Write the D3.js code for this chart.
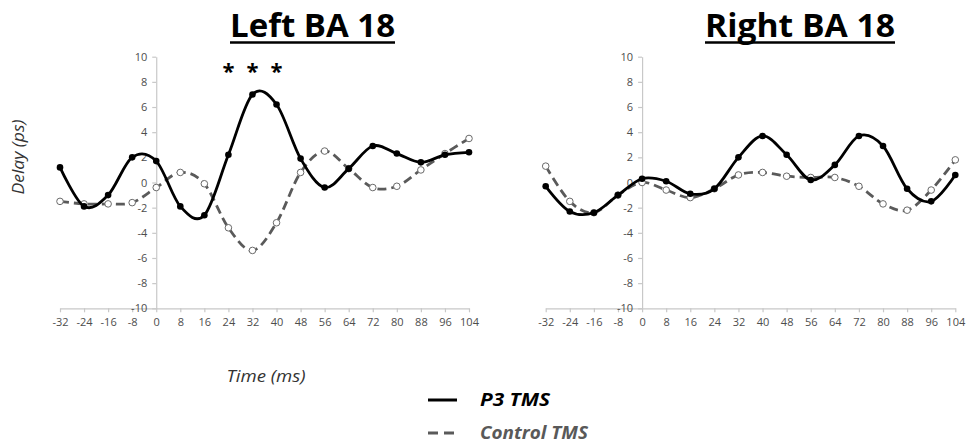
<!DOCTYPE html>
<html><head><meta charset="utf-8">
<script src="https://d3js.org/d3.v7.min.js"></script>
<style>body{margin:0;background:#fff}svg{display:block}</style>
</head><body><svg id="c" width="966" height="447"></svg>
<script>
// ---- data ----
const times = [-32,-24,-16,-8,0,8,16,24,32,40,48,56,64,72,80,88,96,104];
const xTickLabels = times;
const yTickValues = [-10,-8,-6,-4,-2,0,2,4,6,8,10];
const leftP3      = [1.2,-1.9,-1.0,2.0,1.7,-1.9,-2.6,2.2,7.0,6.2,1.9,-0.4,1.1,2.9,2.3,1.6,2.2,2.4];
const leftControl = [-1.5,-1.7,-1.7,-1.6,-0.4,0.8,-0.1,-3.6,-5.4,-3.2,0.8,2.5,1.1,-0.4,-0.3,1.0,2.3,3.5];
const rightP3     = [-0.3,-2.3,-2.4,-1.0,0.3,0.1,-0.9,-0.5,2.0,3.7,2.2,0.2,1.4,3.7,2.9,-0.5,-1.5,0.6];
const rightControl= [1.3,-1.5,-2.4,-1.0,0.0,-0.6,-1.2,-0.5,0.6,0.8,0.5,0.4,0.4,-0.3,-1.7,-2.2,-0.6,1.8];
const seriesNames = ["P3 TMS","Control TMS"];
const panelTitles = ["Left BA 18","Right BA 18"];
const sigTimes = [24,32,40];
const yLabel = "Delay (ps)";
const xLabel = "Time (ms)";

// ---- drawing ----
const svg = d3.select("#c");
svg.append("rect").attr("width",966).attr("height",447).attr("fill","#fff");

const panels = [
  {title:panelTitles[0], p3:leftP3, ctl:leftControl, x0:60, x1:469, tx:230, tw:165, sig:true},
  {title:panelTitles[1], p3:rightP3, ctl:rightControl, x0:545.7, x1:955.3, tx:705, tw:190, sig:false}
];
const yTop = 56.7, yBot = 308.3;
const grey = "#595959";

panels.forEach(p => {
  const x = d3.scaleLinear().domain([-32,104]).range([p.x0,p.x1]);
  const y = d3.scaleLinear().domain([-10,10]).range([yBot,yTop]);
  const g = svg.append("g");

  const xa = g.append("g").attr("transform",`translate(0,${y(-10)})`)
    .call(d3.axisBottom(x).tickValues(xTickLabels).tickSize(4).tickPadding(6).tickSizeOuter(0).tickFormat(d=>d));
  const ya = g.append("g").attr("transform",`translate(${x(0)},0)`)
    .call(d3.axisLeft(y).tickValues(yTickValues).tickSize(4).tickPadding(5).tickSizeOuter(0).tickFormat(d=>d));
  [xa,ya].forEach(a=>{
    a.select(".domain").attr("stroke","#c8c8c8").attr("stroke-width",1.2);
    a.selectAll(".tick line").attr("stroke","#c8c8c8").attr("stroke-width",1.2);
    a.selectAll(".tick text").attr("fill","#4d4d4d").attr("font-family","Open Sans, sans-serif").attr("font-size",11);
  });

  const line = d3.line().x((d,i)=>x(times[i])).y(d=>y(d)).curve(d3.curveCardinal.tension(0));

  g.append("path").datum(p.ctl).attr("d",line).attr("fill","none")
    .attr("stroke","#5a5a5a").attr("stroke-width",2.8).attr("stroke-dasharray","9,5");
  g.selectAll("circle.ctl").data(p.ctl).join("circle").attr("class","ctl")
    .attr("cx",(d,i)=>x(times[i])).attr("cy",d=>y(d)).attr("r",3.3)
    .attr("fill","#fff").attr("stroke","#6a6a6a").attr("stroke-width",1);

  g.append("path").datum(p.p3).attr("d",line).attr("fill","none")
    .attr("stroke","#000").attr("stroke-width",2.8);
  g.selectAll("circle.p3").data(p.p3).join("circle").attr("class","p3")
    .attr("cx",(d,i)=>x(times[i])).attr("cy",d=>y(d)).attr("r",3.3).attr("fill","#000");

  g.append("text").attr("x",p.tx).attr("y",37).text(p.title)
    .attr("font-family","Open Sans, sans-serif").attr("font-weight","bold").attr("font-size",32)
    .attr("textLength",p.tw).attr("lengthAdjust","spacingAndGlyphs").attr("fill","#000");
  g.append("line").attr("x1",p.tx).attr("x2",p.tx+p.tw).attr("y1",42.5).attr("y2",42.5)
    .attr("stroke","#000").attr("stroke-width",2.6);

  if (p.sig) {
    g.selectAll("text.sig").data(sigTimes).join("text").attr("class","sig")
      .attr("x",d=>x(d)).attr("y",79).attr("text-anchor","middle").text("*")
      .attr("font-family","Open Sans, sans-serif").attr("font-weight","bold").attr("font-size",22).attr("fill","#000");
  }
});

svg.append("text").attr("transform","translate(24,157) rotate(-90)").attr("text-anchor","middle")
  .text(yLabel).attr("font-family","Open Sans, sans-serif").attr("font-style","italic").attr("font-size",16)
  .attr("fill","#333").attr("textLength",75).attr("lengthAdjust","spacingAndGlyphs");
svg.append("text").attr("x",266).attr("y",382).attr("text-anchor","middle")
  .text(xLabel).attr("font-family","Open Sans, sans-serif").attr("font-style","italic").attr("font-size",16)
  .attr("fill","#333").attr("textLength",79).attr("lengthAdjust","spacingAndGlyphs");

const leg = svg.append("g");
const legY = [400,433];
leg.append("line").attr("x1",428).attr("x2",457).attr("y1",legY[0]).attr("y2",legY[0])
  .attr("stroke","#000").attr("stroke-width",3);
leg.append("line").attr("x1",428).attr("x2",457).attr("y1",legY[1]).attr("y2",legY[1])
  .attr("stroke","#5a5a5a").attr("stroke-width",3).attr("stroke-dasharray","10,6");
const legW = [70,108];
seriesNames.forEach((n,i)=>{
  leg.append("text").attr("x",480).attr("y",legY[i]+6).text(n)
    .attr("font-family","Open Sans, sans-serif").attr("font-style","italic").attr("font-weight","bold")
    .attr("font-size",17).attr("fill",i===0?"#000":grey)
    .attr("textLength",legW[i]).attr("lengthAdjust","spacingAndGlyphs");
});
</script></body></html>
